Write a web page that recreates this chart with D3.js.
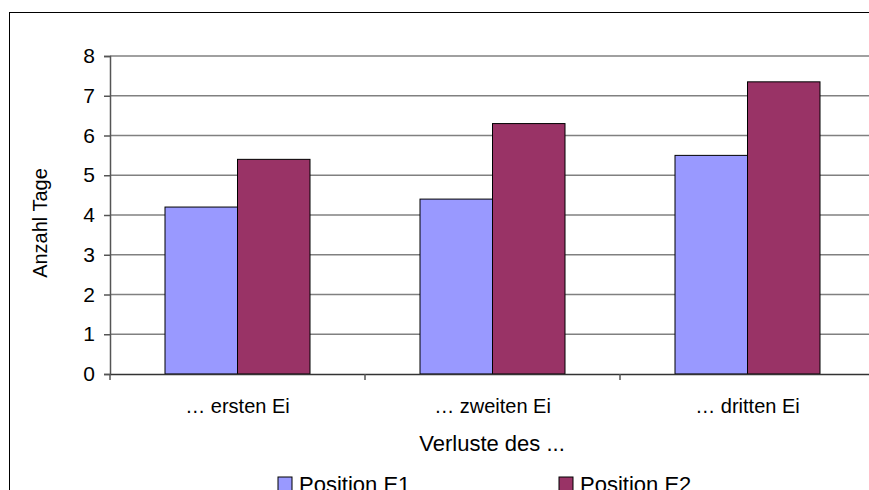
<!DOCTYPE html>
<html>
<head>
<meta charset="utf-8">
<script src="https://cdn.jsdelivr.net/npm/d3@7"></script>
<style>
  body { margin: 0; background: #fff; }
  svg { display: block; font-family: "Liberation Sans", Arial, sans-serif; }
</style>
</head>
<body>
<div id="chart"></div>
<script>
// data
var categories = ["… ersten Ei", "… zweiten Ei", "… dritten Ei"];
var seriesNames = ["Position E1", "Position E2"];
var e1 = [4.2, 4.4, 5.5];
var e2 = [5.4, 6.3, 7.35];
var yTicks = [0, 1, 2, 3, 4, 5, 6, 7, 8];
var colors = ["#9999FF", "#993366"];

var W = 869, H = 490;
var margin = {top: 56, left: 110};
var plotW = 765, plotH = 318;
var fs = 20, fsBig = 22;

var svg = d3.select("#chart").append("svg")
  .attr("width", W).attr("height", H);

// outer frame
svg.append("rect")
  .attr("x", 9.5).attr("y", 12.5)
  .attr("width", 900).attr("height", 500)
  .attr("fill", "none").attr("stroke", "#000").attr("stroke-width", 1);

var g = svg.append("g")
  .attr("transform", "translate(" + margin.left + "," + margin.top + ")");

var x0 = d3.scaleBand().domain(categories).range([0, plotW]).paddingInner(0).paddingOuter(0);
var x1 = d3.scaleBand().domain(seriesNames).range([55, x0.bandwidth() - 55]);
var y = d3.scaleLinear().domain([0, 8]).range([plotH, 0]);

// gridlines
g.selectAll(".grid").data(yTicks.slice(1)).enter().append("line")
  .attr("x1", 0).attr("x2", plotW)
  .attr("y1", function(d) { return y(d); }).attr("y2", function(d) { return y(d); })
  .attr("stroke", "#808080").attr("stroke-width", 1.5);

// bars
var rows = categories.map(function(c, i) { return {cat: c, vals: [e1[i], e2[i]]}; });
var grp = g.selectAll(".grp").data(rows).enter().append("g")
  .attr("transform", function(d) { return "translate(" + x0(d.cat) + ",0)"; });
grp.selectAll("rect").data(function(d) {
    return d.vals.map(function(v, j) { return {s: seriesNames[j], v: v, j: j}; });
  }).enter().append("rect")
  .attr("x", function(d) { return x1(d.s); })
  .attr("y", function(d) { return y(d.v); })
  .attr("width", x1.bandwidth())
  .attr("height", function(d) { return plotH - y(d.v); })
  .attr("fill", function(d) { return colors[d.j]; })
  .attr("stroke", "#000").attr("stroke-width", 1);

// y axis
var yAxis = g.append("g")
  .call(d3.axisLeft(y).tickValues(yTicks).tickSize(6).tickPadding(9).tickFormat(d3.format("d")));
yAxis.attr("font-size", 21).attr("font-family", "Liberation Sans, Arial, sans-serif");
yAxis.select(".domain").attr("stroke", "#555").attr("stroke-width", 1.5);
yAxis.selectAll(".tick line").attr("stroke", "#555").attr("stroke-width", 1.5);
yAxis.selectAll(".tick text").attr("fill", "#000");

// x axis
var xAxis = g.append("g").attr("transform", "translate(0," + plotH + ")")
  .call(d3.axisBottom(x0).tickSize(0).tickPadding(25));
xAxis.attr("font-size", fs).attr("font-family", "Liberation Sans, Arial, sans-serif");
xAxis.select(".domain").attr("stroke", "#333").attr("stroke-width", 1.5);
xAxis.selectAll(".tick text").attr("fill", "#000");
// category separators
g.selectAll(".sep").data(categories).enter().append("line")
  .attr("x1", function(d) { return x0(d); }).attr("x2", function(d) { return x0(d); })
  .attr("y1", plotH).attr("y2", plotH + 6)
  .attr("stroke", "#555").attr("stroke-width", 1.5);

// axis titles
svg.append("text")
  .attr("transform", "translate(47," + (margin.top + plotH / 2 + 8) + ") rotate(-90)")
  .attr("text-anchor", "middle").attr("font-size", fs)
  .text("Anzahl Tage");
svg.append("text")
  .attr("x", 492).attr("y", 451)
  .attr("text-anchor", "middle").attr("font-size", fsBig)
  .text("Verluste des ...");

// legend
var legX = [278, 559];
var leg = svg.selectAll(".leg").data(seriesNames).enter().append("g")
  .attr("transform", function(d, i) { return "translate(" + legX[i] + ",477)"; });
leg.append("rect").attr("width", 14).attr("height", 14)
  .attr("fill", function(d, i) { return colors[i]; })
  .attr("stroke", "#000").attr("stroke-width", 1);
leg.append("text").attr("x", 21).attr("y", 15).attr("font-size", fsBig)
  .text(function(d) { return d; });
</script>
</body>
</html>
